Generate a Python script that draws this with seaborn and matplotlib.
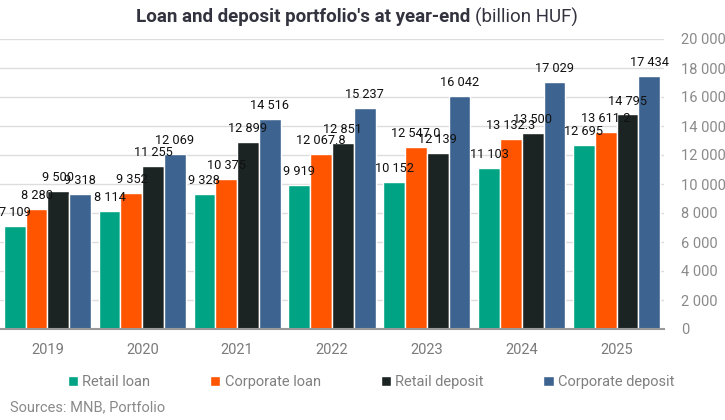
import matplotlib
matplotlib.use("Agg")
import matplotlib.pyplot as plt
import seaborn as sns
import pandas as pd

years = ["2019", "2020", "2021", "2022", "2023", "2024", "2025"]
retail_loan = [7109, 8114, 9328, 9919, 10152, 11103, 12695]
corporate_loan = [8280, 9352, 10375, 12067.8, 12547.0, 13132.3, 13611.2]
retail_deposit = [9500, 11255, 12899, 12851, 12139, 13500, 14795]
corporate_deposit = [9318, 12069, 14516, 15237, 16042, 17029, 17434]
# corporate loan labels switch to one decimal from 2022
corporate_loan_decimals = [0, 0, 0, 1, 1, 1, 1]

series_names = ["Retail loan", "Corporate loan", "Retail deposit", "Corporate deposit"]
colors = ["#00a383", "#ff5400", "#1b2422", "#3d6490"]

series_values = [retail_loan, corporate_loan, retail_deposit, corporate_deposit]
series_decimals = [[0] * 7, corporate_loan_decimals, [0] * 7, [0] * 7]

rows = []
for name, vals in zip(series_names, series_values):
    for y, v in zip(years, vals):
        rows.append({"year": y, "series": name, "value": v})
df = pd.DataFrame(rows)


def fmt(v, d=0):
    return f"{v:,.{d}f}".replace(",", " ")


sns.set_theme(style="white")
plt.rcParams['font.family'] = ['Roboto', 'DejaVu Sans']

W, H = 725, 420
fig = plt.figure(figsize=(W / 100, H / 100), dpi=100)
ax = fig.add_axes([0, 91 / H, 664 / W, 290 / H])

sns.barplot(data=df, x="year", y="value", hue="series", hue_order=series_names,
            palette=colors, width=0.92, saturation=1, errorbar=None, ax=ax)

ax.set_xlim(-0.5, 6.5)
ax.set_ylim(0, 20000)
ax.yaxis.tick_right()
yt = list(range(0, 20001, 2000))
ax.set_yticks(yt)
ax.set_yticklabels([fmt(t) for t in yt])
ax.tick_params(axis='y', length=0, pad=12, labelsize=10.5, labelcolor='#8a8a8a')
ax.tick_params(axis='x', length=0, pad=10, labelsize=10.5, labelcolor='#7a7a7a')
ax.grid(axis='y', color='#dddddd', lw=1)
ax.set_axisbelow(True)
for s in ["top", "left", "right"]:
    ax.spines[s].set_visible(False)
ax.spines["bottom"].set_color("#999999")
ax.spines["bottom"].set_linewidth(1.5)
ax.set_xlabel("")
ax.set_ylabel("")

for container, vals, decs in zip(ax.containers, series_values, series_decimals):
    ax.bar_label(container, labels=[fmt(v, d) for v, d in zip(vals, decs)],
                 padding=5, fontsize=9.2, color='#111111')

handles, labels = ax.get_legend_handles_labels()
ax.get_legend().remove()
leg = fig.legend(handles, labels, loc='center', bbox_to_anchor=(371 / W, 1 - 382 / H),
                 ncol=4, frameon=False, fontsize=10.5, handlelength=0.7, handleheight=0.7,
                 handletextpad=0.3, columnspacing=4.1)
for t in leg.get_texts():
    t.set_color('#808080')

# title: bold part + regular part, centred together
ty = 1 - 17 / H
t1 = fig.text(0, ty, "Loan and deposit portfolio's at year-end", fontsize=13.5,
              fontweight='bold', color='#333340', va='center')
t2 = fig.text(0, ty, "(billion HUF)", fontsize=13.5, color='#333340', va='center')
fig.canvas.draw()
r = fig.canvas.get_renderer()
w1 = t1.get_window_extent(r).width
w2 = t2.get_window_extent(r).width
gap = 5
x0 = 357 - (w1 + gap + w2) / 2
t1.set_x(x0 / W)
t2.set_x((x0 + w1 + gap) / W)

fig.text(10 / W, 1 - 407 / H, "Sources: MNB, Portfolio", fontsize=10.5,
         color='#8a8a8a', va='center')

fig.savefig("out.png", dpi=100)
